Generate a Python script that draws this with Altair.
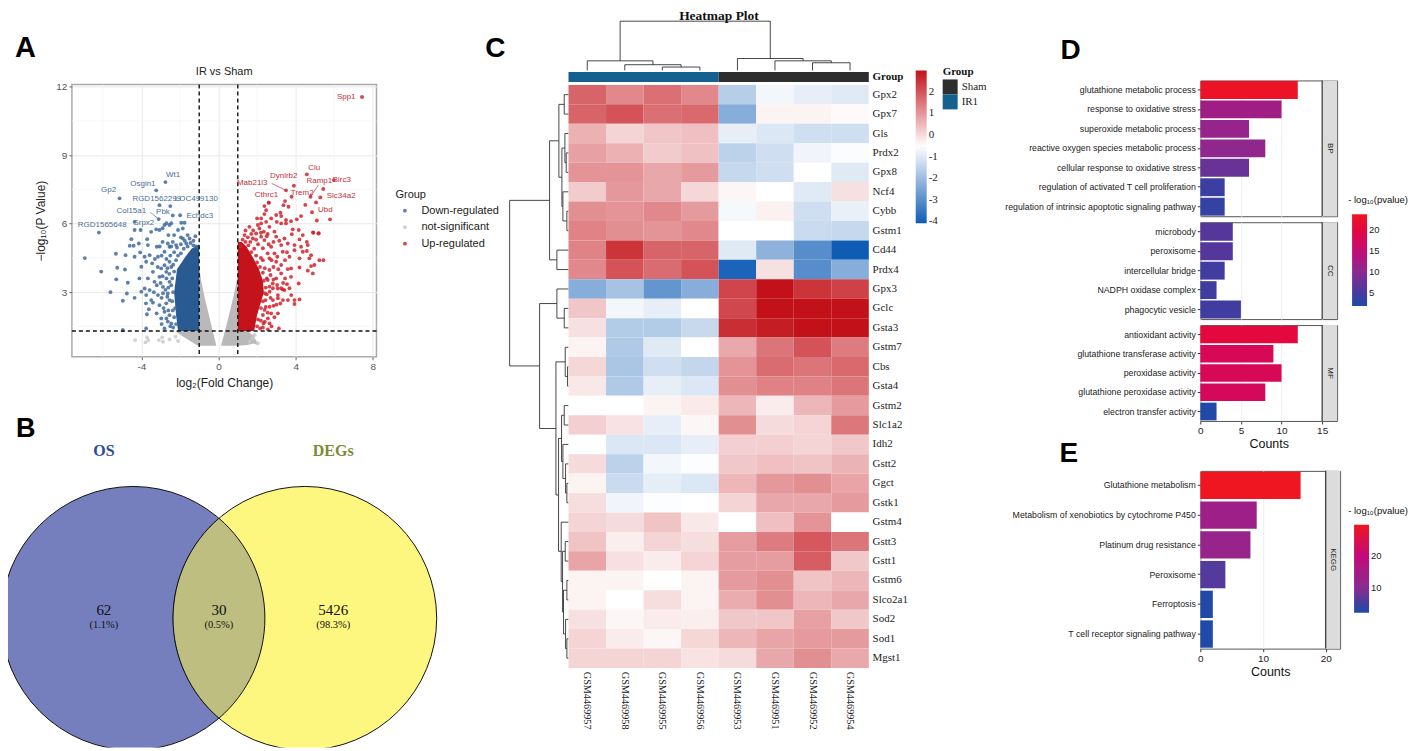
import altair as alt
import pandas as pd

NARROW = "Liberation Sans"
SERIF = "Liberation Serif"
SANS = "Liberation Sans"
PLAIN = "'' + datum.value"

# ---------- A: volcano ----------
down_pts = [(-6.2,5.61),(-6.93,4.49),(-6.08,3.9),(-5.32,4.68),(-4.82,4.62),(-5.25,4.07),(-4.85,3.99),(-5.3,3.56),(-4.7,3.41),(-5.6,3.0),(-4.75,2.94),(-4.35,2.75),(-4.96,2.62),
(-4.35,5.72),(-4.04,5.72),(-4.52,5.32),(-4.4,5.03),(-4.6,5.03),(-4.13,5.13),(-4.06,4.74),(-4.35,4.55),(-3.7,5.32),(-3.49,5.64),(-3.23,5.75),(-3.66,5.06),(-3.2,4.99),(-3.83,4.55),(-3.57,4.62),(-3.75,4.33),(-3.44,4.26),(-4.0,4.11),(-3.14,4.55),(-2.8,4.77),(-2.63,5.13),(-2.37,5.2),(-3.06,5.72),(-2.8,5.94),(-2.54,5.94),(-1.93,6.04),(-1.76,6.04),(-2.37,6.36),(-1.99,6.37),(-1.85,5.79),(-2.1,5.72),(-1.5,5.35),(-1.85,5.35),(-1.67,5.13),(-2.2,5.06),(-2.54,4.99),
(-4.1,3.6),(-3.4,3.89),(-3.66,3.6),(-3.32,3.45),(-3.83,3.16),(-3.57,3.09),(-3.06,3.67),(-2.71,3.89),(-2.88,3.23),(-2.63,2.94),(-3.75,2.87),(-3.49,2.65),(-3.14,2.87),(-2.54,3.45),(-2.8,4.18),(-2.54,4.33),(-2.97,4.04),(-4.0,3.02),
(-2.75,7.82),(-3.23,7.46),(-5.13,7.11),(-3.06,6.81),(-2.5,6.77),(-3.1,6.2),(-4.35,6.08),(-2.7,6.02),(-2.45,6.02),(-2.9,5.8),
(-3.75,1.41),(-4.96,1.34),(-3.21,2.07),(-3.71,2.03),(-3.61,2.25),(-3.76,2.51),(-3.4,2.54),(-2.97,1.85),(-2.8,1.41),(-2.63,1.71),(-3.06,2.43),(-2.8,2.14),(-2.54,1.99),(-2.71,2.51),(-2.45,1.63),(-2.37,2.2),(-2.54,2.65),(-2.88,2.95),
(-2.2,1.6),(-2.3,1.9),(-2.25,2.3),(-2.4,2.6),(-2.35,3.0),(-2.45,3.3),(-2.4,3.6),(-2.3,3.9),(-2.35,4.2),(-2.2,4.4),(-2.1,4.6),(-1.95,4.7),(-1.8,4.9),(-1.6,5.0),(-1.45,5.15),(-1.3,5.05),(-1.15,5.0),(-2.6,2.2),(-2.65,2.8),(-2.75,3.1),(-2.6,3.2),(-2.7,3.6),(-2.55,3.8),(-2.65,4.05),(-2.45,4.1),(-2.5,4.6),(-2.3,4.75),(-2.15,4.95),(-1.95,5.1),(-1.75,5.25),(-2.85,2.3),(-2.95,2.75),(-3.0,3.4),(-2.9,3.7),(-3.2,3.3),(-3.35,3.0),(-2.95,1.6),(-2.7,1.85),(-2.5,1.5),(-2.35,1.45),(-3.15,4.1),(-3.3,4.45),(-2.95,4.6),(-2.7,4.45),(-2.45,5.0),(-1.6,5.5),(-1.3,5.25),(-1.2,5.45),(-1.95,5.4),(-2.3,5.5),(-2.6,5.5),(-2.9,5.2),(-3.05,5.0)]
ns_pts = [(-4.32,.9),(-3.71,1.02),(-3.64,.9),(-3.78,.8),(-3.09,.9),(-2.92,1.02),(-2.88,.83),(-2.23,1.05),(-2.1,.86),(-2.54,.93),(1.87,1.12),(2.04,.76),(1.78,.97),(1.61,.83)]
up_pts = [(7.44,11.55),(4.58,8.16),(3.91,7.66),(3.5,7.46),(3.79,7.18),(4.77,7.18),(5.28,7.15),(5.43,7.52),(5.98,7.91),(3.45,6.99),(2.6,6.92),(5.06,6.93),(4.5,6.82),(4.85,6.5),(5.78,6.19),(5.1,6.14),(4.9,5.62),(5.2,5.58),
(2.61,6.92),(2.38,6.77),(2.47,6.59),(2.38,6.42),(2.0,6.23),(2.21,6.23),(3.21,6.48),(2.99,6.38),(3.25,6.33),(3.37,6.81),(3.63,6.74),(4.28,6.33),(4.06,6.19),(3.76,6.11),(3.5,6.16),(3.5,6.01),(3.02,6.08),(3.25,6.01),(2.73,6.23),(2.47,6.08),(2.21,6.01),(2.04,5.94),(1.6,5.86),(2.12,5.79),(2.64,5.86),(2.9,5.65),(2.35,5.65),(1.95,5.57),(1.52,5.4),(1.78,5.35),(2.21,5.43),(2.38,5.28),(2.99,5.43),(3.42,5.35),(3.85,5.75),(4.16,5.72),(3.8,5.54),(4.37,5.5),(4.92,5.6),(5.18,5.57),(4.58,5.2),(4.2,5.31),(3.59,5.13),(3.94,5.06),(4.63,5.06),(4.28,4.99),(3.25,5.06),(2.73,4.99),(2.3,4.92),(2.9,4.7),(3.33,4.77),(3.94,4.84),(4.37,4.77),(4.58,4.8),(4.8,4.62),(4.2,4.48),(3.68,4.55),(4.71,4.48),(5.23,4.4),(5.44,4.4),(4.97,4.19),(4.8,4.14),(4.2,4.08),(3.76,4.04),(2.99,4.33),(2.64,4.48),(2.3,4.4),(3.25,4.19),(3.59,4.01),(4.63,3.94),(4.89,3.82),(3.25,3.82),(2.64,3.97),(2.99,3.6),(2.55,3.53),(3.76,3.67),(2.64,3.24),(3.07,3.16),(3.33,3.12),(2.81,3.38),
(4.16,3.38),(4.2,2.68),(3.68,3.17),(3.25,3.17),(3.04,3.31),(3.42,3.09),(3.08,2.87),(3.77,2.87),(3.94,2.65),(3.94,2.48),(3.6,2.65),(3.34,2.65),(3.08,2.73),(2.82,2.65),(2.65,2.36),(3.08,2.07),(2.73,2.07),(2.65,1.63),(2.33,1.63),(2.56,1.85),(3.13,1.41),(2.3,2.0),(2.16,1.41),(2.56,1.37),(2.39,2.22),(2.82,3.17),(2.65,3.02),(2.44,2.65),
(2.0,1.5),(2.05,1.8),(2.2,1.75),(2.2,2.3),(2.3,2.6),(2.4,2.95),(2.5,2.9),(2.45,3.2),(2.35,3.5),(2.5,3.6),(2.3,3.85),(2.15,4.1),(2.4,4.05),(2.0,4.3),(2.2,4.5),(1.95,4.6),(1.7,4.75),(1.85,4.9),(1.55,5.05),(1.4,5.2),(1.65,5.2),(1.25,5.3),(1.15,5.0),(2.05,5.1),(1.95,5.3),(1.7,5.55),(1.35,5.5),(1.4,5.7),(1.8,5.7),(2.5,5.45),(2.6,5.1),(2.55,4.7),(2.75,4.4),(2.85,4.1),(2.7,3.75),(2.85,3.55),(2.7,2.75),(2.85,2.4),(2.45,2.35),(2.55,2.1),(2.4,1.7),(2.3,1.45),(2.75,1.5),(2.9,1.9),(3.0,2.45),(3.2,2.5),(3.35,3.4),(3.45,3.6),(3.55,3.35),(3.1,4.0),(3.45,4.4),(3.05,4.55),(3.55,4.75),(3.15,5.25),(2.85,5.2),(2.55,5.55),(2.2,5.6)]

down_core_y = [1.3, 2, 3, 4, 4.5, 4.9, 5.1]
down_core_x = [-2.1, -2.2, -2.3, -2.15, -1.76, -1.4, -1.0]
up_core_y = [1.3, 2, 3, 3.5, 4, 4.5, 5, 5.2]
up_core_x = [1.85, 2.0, 2.35, 2.3, 2.1, 1.8, 1.45, 1.2]
grey_left = [(-2.2,1.25,1.3),(-1.64,.95,1.3),(-1.07,.65,1.3),(-1.0,.65,4.1),(-.9,.65,3.5),(-.7,.65,2.7),(-.5,.65,2.0),(-.3,.65,1.3),(-.12,.65,.68)]
grey_right = [(.14,.65,.7),(.4,.65,1.5),(.6,.65,2.2),(.8,.65,2.9),(1.0,.65,3.75),(1.01,.65,1.3),(1.5,.68,1.3),(1.8,.75,1.1),(2.04,.7,.75)]
down_labels = [("Wt1",-2.35,8.12),("Osgin1",-3.92,7.74),("Gp2",-5.7,7.46),("RGD1562299",-3.2,7.08),("LOC499130",-1.15,7.08),("Col15a1",-4.52,6.55),("Pbk",-2.88,6.5),("Srpx2",-3.87,6.02),("Echdc3",-.97,6.34),("RGD1565648",-6.03,5.95)]
up_labels = [("Spp1",6.62,11.54),("Clu",4.96,8.46),("Dynlrb2",3.38,8.08),("Ramp1",5.23,7.86),("Birc3",6.39,7.92),("Mab21l3",1.75,7.77),("Trem2",4.34,7.34),("Cthrc1",2.49,7.24),("Slc34a2",6.36,7.19),("Ubd",5.54,6.6)]
connectors = [(2.76,7.76,3.5,7.46,"#c2303a"),(-3.54,6.5,-3.1,6.2,"#4a7096"),(5.18,7.7,4.77,7.18,"#c2303a")]

XA = alt.Scale(domain=[-7.6, 8.19], nice=False, zero=False)
YA = alt.Scale(domain=[.17, 12.1], nice=False, zero=False)

def blank(w, h):
    return alt.Chart(alt.Data(values=[{}])).mark_point(opacity=0, size=0).encode(x=alt.value(0), y=alt.value(0)).properties(width=w, height=h)

def note(text, x, y, **kw):
    return alt.Chart(alt.Data(values=[{}])).mark_text(**kw).encode(x=alt.value(x), y=alt.value(y), text=alt.value(text))

pts = pd.DataFrame(
    [dict(x=a, y=b, g="Down-regulated") for a, b in down_pts]
    + [dict(x=a, y=b, g="not-significant") for a, b in ns_pts]
    + [dict(x=a, y=b, g="Up-regulated") for a, b in up_pts])
x_enc = alt.X("x:Q", scale=XA, axis=alt.Axis(values=[-4, 0, 4, 8], labelExpr=PLAIN, title="log₂(Fold Change)", titleFontSize=12, titleFont=SANS, titleFontWeight="normal", titleColor="#222", labelFontSize=10, labelFont=SANS, labelColor="#555", tickColor="#666", tickSize=3, domain=False, gridColor="#e9e9e9", titlePadding=6))
y_enc = alt.Y("y:Q", scale=YA, axis=alt.Axis(values=[3, 6, 9, 12], title="−log₁₀(P Value)", titleFontSize=12, titleFont=SANS, titleFontWeight="normal", titleColor="#222", labelFontSize=10, labelFont=SANS, labelColor="#555", tickColor="#666", tickSize=3, domain=False, gridColor="#e9e9e9", titlePadding=8))

base_axes = alt.Chart(pd.DataFrame({"x": [0.0], "y": [3.0]})).mark_point(opacity=0).encode(x=x_enc, y=y_enc)
minor_x = alt.Chart(pd.DataFrame({"x": [-6, -2, 2, 6]})).mark_rule(color="#f4f4f4", strokeWidth=.7).encode(x=alt.X("x:Q", scale=XA))
minor_y = alt.Chart(pd.DataFrame({"y": [1.5, 4.5, 7.5, 10.5]})).mark_rule(color="#f4f4f4", strokeWidth=.7).encode(y=alt.Y("y:Q", scale=YA))

def grey_area(rows):
    d = pd.DataFrame(rows, columns=["x", "lo", "hi"])
    return alt.Chart(d).mark_area(color="#b9b9b9").encode(x=alt.X("x:Q", scale=XA), y=alt.Y("lo:Q", scale=YA), y2="hi:Q")

def core(ys, xs, other, colour):
    d = pd.DataFrame({"y": ys, "a": xs, "b": [other] * len(ys)})
    return alt.Chart(d).mark_area(color=colour, orient="horizontal").encode(y=alt.Y("y:Q", scale=YA), x=alt.X("a:Q", scale=XA), x2="b:Q")

scatter = alt.Chart(pts).mark_circle(size=15, opacity=.85).encode(
    x=alt.X("x:Q", scale=XA), y=alt.Y("y:Q", scale=YA),
    color=alt.Color("g:N", scale=alt.Scale(domain=["Down-regulated", "not-significant", "Up-regulated"], range=["#3f6a9c", "#c9c9c9", "#d0222c"]),
                    legend=alt.Legend(title="Group", orient="none", legendX=324, legendY=105, titleFontSize=11, titleFontWeight="normal", titleFont=SANS, titleColor="#222", labelFont=SANS, labelFontSize=11, labelColor="#222", symbolSize=14, symbolOffset=4, rowPadding=4.5, labelOffset=11, symbolType="circle")))
vl = alt.Chart(pd.DataFrame({"x": [-1, 1]})).mark_rule(color="#111", strokeWidth=1.4, strokeDash=[4, 3]).encode(x=alt.X("x:Q", scale=XA))
hl = alt.Chart(pd.DataFrame({"y": [1.3]})).mark_rule(color="#111", strokeWidth=1.4, strokeDash=[4, 3]).encode(y=alt.Y("y:Q", scale=YA))
conn = alt.Chart(pd.DataFrame(connectors, columns=["x", "y", "x2", "y2", "c"])).mark_rule(strokeWidth=.7).encode(
    x=alt.X("x:Q", scale=XA), y=alt.Y("y:Q", scale=YA), x2="x2:Q", y2="y2:Q", color=alt.Color("c:N", scale=None))

def labels(rows, colour):
    d = pd.DataFrame(rows, columns=["t", "x", "y"])
    return alt.Chart(d).mark_text(font=SANS, fontSize=8, color=colour).encode(x=alt.X("x:Q", scale=XA), y=alt.Y("y:Q", scale=YA), text="t:N")

panel_a = alt.layer(
    base_axes, minor_x, minor_y, grey_area(grey_left), grey_area(grey_right),
    core(down_core_y, down_core_x, -1.0, "#2a5a92"), core(up_core_y, up_core_x, 1.0, "#c5131c"),
    scatter, vl, hl, conn, labels(down_labels, "#4a7096"), labels(up_labels, "#c2303a"),
    note("IR vs Sham", 152.5, -12, font=SANS, fontSize=11, color="#222"),
    note("A", -57, -27, font=SANS, fontSize=29, fontWeight="bold", align="left", baseline="alphabetic", color="#000"),
    note("C", 414, -27, font=SANS, fontSize=28, fontWeight="bold", align="left", baseline="alphabetic", color="#000"),
).properties(width=305, height=272.7, view=alt.ViewBackground(stroke="#aaaaaa", strokeWidth=1.5))

# ---------- B: Venn ----------
XB = alt.Scale(domain=[8, 509], nice=False, zero=False)
YB = alt.Scale(domain=[388.1, 746.1], nice=False, zero=False, reverse=True)
venn_x = [133.2, 305.3]
venn_names = ["OS", "DEGs"]
venn_fill = ["#757fbd", "#fdf67f"]
venn_df = pd.DataFrame({"x": venn_x, "y": [616.7, 616.7], "f": venn_fill})
LENS = "M0,-0.7586 A1,1 0 0 1 0,0.7586 A1,1 0 0 1 0,-0.7586 Z"
circles = alt.Chart(venn_df).mark_point(filled=False, clip=True, size=69696, shape="circle", stroke="#111", strokeWidth=1, opacity=1).encode(
    x=alt.X("x:Q", scale=XB, axis=None), y=alt.Y("y:Q", scale=YB, axis=None), fill=alt.Fill("f:N", scale=None))
lens = alt.Chart(pd.DataFrame({"x": [219.25], "y": [616.7]})).mark_point(filled=True, size=69696, shape=LENS, fill="#bdbe80", stroke="#111", strokeWidth=1, opacity=1).encode(
    x=alt.X("x:Q", scale=XB, axis=None), y=alt.Y("y:Q", scale=YB, axis=None))
venn_heads = pd.DataFrame({"x": [104, 333.7], "y": [449, 449], "t": venn_names, "c": ["#2a4aa0", "#7d8a32"]})
heads = alt.Chart(venn_heads).mark_text(font=SERIF, fontSize=16, fontWeight="bold").encode(
    x=alt.X("x:Q", scale=XB), y=alt.Y("y:Q", scale=YB), text="t:N", color=alt.Color("c:N", scale=None))
venn_nums = pd.DataFrame({"x": [104, 219.2, 333.7], "y": [613, 613, 613], "t": ["62", "30", "5426"]})
nums = alt.Chart(venn_nums).mark_text(font=SERIF, fontSize=15, color="#111", baseline="alphabetic").encode(x=alt.X("x:Q", scale=XB), y=alt.Y("y:Q", scale=YB), text="t:N")
venn_pct = pd.DataFrame({"x": [104, 219.2, 333.7], "y": [626, 626, 626], "t": ["(1.1%)", "(0.5%)", "(98.3%)"]})
pcts = alt.Chart(venn_pct).mark_text(font=SERIF, fontSize=10.5, color="#111", baseline="alphabetic").encode(x=alt.X("x:Q", scale=XB), y=alt.Y("y:Q", scale=YB), text="t:N")
panel_b = alt.layer(circles, lens, heads, nums, pcts,
    note("B", 8, 47, font=SANS, fontSize=27, fontWeight="bold", align="left", baseline="alphabetic", color="#000"),
).properties(width=501, height=358)

# ---------- C: heatmap ----------
genes = ["Gpx2","Gpx7","Gls","Prdx2","Gpx8","Ncf4","Cybb","Gstm1","Cd44","Prdx4","Gpx3","Gclc","Gsta3","Gstm7","Cbs","Gsta4","Gstm2","Slc1a2","Idh2","Gstt2","Ggct","Gstk1","Gstm4","Gstt3","Gstt1","Gstm6","Slco2a1","Sod2","Sod1","Mgst1"]
samples = ["GSM4469957","GSM4469958","GSM4469955","GSM4469956","GSM4469953","GSM4469951","GSM4469952","GSM4469954"]
z = [
[1.76,1.23,1.58,1.23,-1.62,-.73,-.91,-1.01],
[1.76,2.01,1.58,1.69,-2.33,-.37,-.37,-.48],
[.62,.09,.3,.41,-.91,-1.08,-1.26,-1.26],
[.87,.62,.23,.37,-1.54,-1.26,-.76,-.62],
[1.05,1.05,.76,.94,-1.4,-1.26,-.55,-1.01],
[.23,.98,.76,.05,-.41,-.55,-1.01,-.09],
[1.12,1.05,1.23,.94,-.69,-.34,-1.26,-.87],
[1.3,1.12,1.05,1.23,-.55,-.55,-1.33,-1.4],
[1.3,2.47,1.76,1.76,-1.01,-2.22,-3.04,-4.1],
[1.23,2.01,1.65,2.01,-3.92,-.09,-3.04,-2.33],
[-2.33,-1.86,-2.86,-2.33,2.22,3,2.47,2.29],
[.3,-.73,-.91,-.55,2.18,3,3,3],
[-.09,-1.69,-1.69,-1.37,2.57,2.82,3,3],
[-.37,-1.72,-1.01,-.55,.73,1.51,2.01,1.4],
[.05,-1.79,-1.26,-1.44,1.05,1.65,1.51,1.69],
[-.2,-1.72,-.91,-1.08,1.12,1.33,1.33,1.51],
[-.55,-.55,-.37,-.23,.52,-.27,.52,.94],
[.16,-.12,-.91,-.41,1.12,-.02,.09,1.47],
[-.55,-1.08,-1.08,-.91,.16,.16,.09,.27],
[-.02,-1.54,-.73,-.59,.27,.41,.34,.59],
[-.37,-1.33,-.94,-1.08,.52,.98,1.12,.8],
[-.05,-.76,-.59,-.55,.09,.76,.76,.94],
[.09,-.02,.34,-.2,-.55,.41,1.05,-.55],
[.34,-.3,.09,-.05,.91,1.4,1.94,1.51],
[.8,-.09,-.27,.09,.91,.91,1.86,.27],
[-.37,-.37,-.55,-.37,.94,1.12,.34,.52],
[-.37,-.55,-.05,-.37,.69,1.12,.52,.76],
[-.09,-.41,-.27,-.3,.27,.3,.87,.27],
[.09,-.27,-.41,.05,.52,.8,.94,.94],
[.09,.09,.09,-.12,-.02,.76,1.12,.73],
]
XC = alt.Scale(domain=[-1.338, 11.59], nice=False, zero=False)
YC = alt.Scale(domain=[-3.88, 33.99], nice=False, zero=False, reverse=True)
cells = pd.DataFrame([dict(a=j, b=j + 1, r=i, s=i + 1, v=z[i][j]) for i in range(len(genes)) for j in range(len(samples))])
heat = alt.Chart(cells).mark_rect(strokeWidth=0).encode(
    x=alt.X("a:Q", scale=XC, axis=None), x2="b:Q", y=alt.Y("r:Q", scale=YC, axis=None), y2="s:Q",
    color=alt.Color("v:Q", scale=alt.Scale(domain=[-4.1, -.55, 3], range=["#0f5cb5", "#ffffff", "#c21118"], clamp=True, interpolate="rgb"),
                    legend=alt.Legend(title=None, orient="none", legendX=398, legendY=61, gradientLength=153, gradientThickness=11, gradientStrokeWidth=0, values=[-4, -3, -2, -1, 0, 1, 2], labelExpr=PLAIN, labelFont=SERIF, labelFontSize=11, labelColor="#222", labelOverlap=False, tickCount=7)))
group_bar = alt.Chart(pd.DataFrame({"a": [0, 4], "b": [4, 8], "r": [-.668, -.668], "s": [-.154, -.154], "g": ["IR1", "Sham"]})).mark_rect().encode(
    x=alt.X("a:Q", scale=XC, axis=None), x2="b:Q", y=alt.Y("r:Q", scale=YC, axis=None), y2="s:Q",
    color=alt.Color("g:N", scale=alt.Scale(domain=["Sham", "IR1"], range=["#2e2e2e", "#14608f"]),
                    legend=alt.Legend(title="Group", orient="none", legendX=425, legendY=57, symbolType="square", symbolSize=225, symbolStrokeWidth=0, rowPadding=0, titleFont=SERIF, titleFontSize=11, titleFontWeight="bold", titleColor="#111", titlePadding=2, labelFont=SERIF, labelFontSize=11, labelColor="#222", labelOffset=4)))

# top dendrogram merges: left position, right position, height, child heights
top_merges = [
(2.5,3.5,-.92,-.745,-.745),(1.5,3.0,-1.04,-.745,-.92),(.5,2.25,-1.24,-.745,-1.04),
(6.5,7.5,-1.14,-.745,-.745),(5.5,7.0,-1.24,-.745,-1.14),(4.5,6.25,-1.36,-.745,-1.24),
(1.375,5.375,-3.28,-1.24,-1.36)]
# left dendrogram merges: upper row, lower row, height, child heights
left_merges = [
(.5,1.5,-.114,-.005,-.005),(3.5,4.5,-.061,-.005,-.005),(2.5,4,-.096,-.005,-.061),(6.5,7.5,-.043,-.005,-.005),(5.5,7,-.149,-.005,-.043),(3.25,6.25,-.176,-.096,-.149),(1,4.75,-.256,-.114,-.176),(8.5,9.5,-.309,-.005,-.005),(2.875,9,-.504,-.256,-.309),
(11.5,12.5,-.114,-.005,-.005),(10.5,12,-.309,-.005,-.114),(14.5,15.5,-.025,-.005,-.005),(13.5,15,-.087,-.005,-.025),
(16.5,17.5,-.114,-.005,-.005),(20.5,21.5,-.043,-.005,-.005),(19.5,21,-.078,-.005,-.043),(18.5,20.25,-.149,-.005,-.078),(17,19.375,-.185,-.114,-.149),
(23.5,24.5,-.087,-.005,-.005),(25.5,26.5,-.043,-.005,-.005),(28.5,29.5,-.043,-.005,-.005),(27.5,29,-.078,-.005,-.043),(26,28.25,-.132,-.043,-.078),(24,27.125,-.158,-.087,-.132),(22.5,25.56,-.194,-.005,-.158),
(18.19,24,-.265,-.185,-.194),(14.25,21.1,-.335,-.087,-.265),(11.25,17.68,-.77,-.309,-.335),(5.94,14.46,-1.568,-.504,-.77)]
seg = []
for a, b, h, ha, hb in top_merges:
    seg += [dict(x=a, x2=b, y=h, y2=h), dict(x=a, x2=a, y=h, y2=ha), dict(x=b, x2=b, y=h, y2=hb)]
for a, b, h, ha, hb in left_merges:
    seg += [dict(x=h, x2=h, y=a, y2=b), dict(x=h, x2=ha, y=a, y2=a), dict(x=h, x2=hb, y=b, y2=b)]
tree = alt.Chart(pd.DataFrame(seg)).mark_rule(color="#333", strokeWidth=.9).encode(
    x=alt.X("x:Q", scale=XC, axis=None), x2="x2:Q", y=alt.Y("y:Q", scale=YC, axis=None), y2="y2:Q")
row_lab = alt.Chart(pd.DataFrame({"t": genes, "x": [8.1] * 30, "y": [i + .5 for i in range(30)]})).mark_text(font=SERIF, fontSize=11, align="left", color="#222").encode(
    x=alt.X("x:Q", scale=XC), y=alt.Y("y:Q", scale=YC), text="t:N")
grp_lab = alt.Chart(pd.DataFrame({"t": ["Group"], "x": [8.1], "y": [-.41]})).mark_text(font=SERIF, fontSize=11, fontWeight="bold", align="left", color="#111").encode(
    x=alt.X("x:Q", scale=XC), y=alt.Y("y:Q", scale=YC), text="t:N")
col_lab = alt.Chart(pd.DataFrame({"t": samples, "x": [i + .5 for i in range(8)], "y": [30.2] * 8})).mark_text(font=SERIF, fontSize=10.2, angle=90, align="left", baseline="middle", color="#222").encode(
    x=alt.X("x:Q", scale=XC), y=alt.Y("y:Q", scale=YC), text="t:N")
panel_c = alt.layer(heat, group_bar, tree, row_lab, grp_lab, col_lab,
    note("Heatmap Plot", 201, 10.8, font=SERIF, fontSize=13.5, fontWeight="bold", baseline="alphabetic", color="#111"),
).resolve_scale(color="independent").properties(width=486, height=737)

# ---------- D / E: enrichment bars ----------
bp_terms = ["glutathione metabolic process","response to oxidative stress","superoxide metabolic process","reactive oxygen species metabolic process","cellular response to oxidative stress","regulation of activated T cell proliferation","regulation of intrinsic apoptotic signaling pathway"]
bp_counts = [12, 10, 6, 8, 6, 3, 3]
bp_p = [23, 12, 11, 10.5, 7.5, 4, 3.5]
cc_terms = ["microbody","peroxisome","intercellular bridge","NADPH oxidase complex","phagocytic vesicle"]
cc_counts = [4, 4, 3, 2, 5]
cc_p = [6, 6, 4.5, 4.5, 4.5]
mf_terms = ["antioxidant activity","glutathione transferase activity","peroxidase activity","glutathione peroxidase activity","electron transfer activity"]
mf_counts = [12, 9, 10, 8, 2]
mf_p = [20, 18, 18, 17.5, 2]
kegg_terms = ["Glutathione metabolism","Metabolism of xenobiotics by cytochrome P450","Platinum drug resistance","Peroxisome","Ferroptosis","T cell receptor signaling pathway"]
kegg_counts = [16, 9, 8, 4, 2, 2]
kegg_p = [29.5, 13.5, 12, 6, 2.5, 2.2]

D_DOM = [1.86, 5, 10, 15, 20, 23.7]
E_DOM = [2.2, 10, 20, 29.6]
D_RANGE = ["#1f4aa8", "#483a9e", "#8a2a90", "#c40a78", "#e3083f", "#ef1520"]
E_RANGE = ["#1f4aa8", "#8a2a90", "#c40a78", "#ef1520"]

def colour_scale(dom, rng):
    return alt.Scale(domain=dom, range=rng, clamp=True, interpolate="rgb")

def enrich(terms, counts, p, strip, h, w, xmax, xedge, xvals, cs, show_x, extra=None):
    xs = alt.Scale(domain=[0, xmax], nice=False, zero=False)
    df = pd.DataFrame({"term": terms, "n": counts, "p": p})
    ax = alt.Axis(values=xvals, title="Counts" if show_x else None, labels=show_x, ticks=show_x, domain=False, gridColor="#eeeeee", labelFont=NARROW, labelFontSize=10, labelColor="#222", labelFlush=False, titleFont=NARROW, titleFontSize=12.5, titleFontWeight="normal", titleColor="#111", tickColor="#333", tickSize=3, titlePadding=2, labelPadding=2)
    ay = alt.Axis(title=None, domain=False, gridColor="#f1f1f1", labelFont=NARROW, labelFontSize=8.8, labelColor="#222", tickColor="#333", tickSize=3, labelLimit=300, labelPadding=2)
    y = alt.Y("term:N", sort=terms, scale=alt.Scale(domain=terms, paddingInner=.08, paddingOuter=.03), axis=ay)
    bars = alt.Chart(df).mark_bar(strokeWidth=0).encode(x=alt.X("n:Q", scale=xs, axis=ax), y=y, color=alt.Color("p:Q", scale=cs, legend=None))
    st = alt.Chart(pd.DataFrame({"a": [xedge], "b": [xmax]})).mark_rect(color="#dcdcdc").encode(
        x=alt.X("a:Q", scale=xs), x2="b:Q", y=alt.value(0), y2=alt.value(h))
    edge = alt.Chart(pd.DataFrame({"a": [xedge]})).mark_rule(color="#333", strokeWidth=1.2).encode(x=alt.X("a:Q", scale=xs))
    mx = (xedge + xmax) / 2 * w / xmax
    lab = note(strip, mx, h / 2, font=SANS, fontSize=8, angle=90, color="#222")
    layers = [bars, st, edge, lab] + (extra or [])
    return alt.layer(*layers).properties(width=w, height=h, view=alt.ViewBackground(stroke="#555", strokeWidth=1))

CS_D = colour_scale(D_DOM, D_RANGE)
CS_E = colour_scale(E_DOM, E_RANGE)
d_bp = enrich(bp_terms, bp_counts, bp_p, "BP", 136, 137, 16.84, 15, [0, 5, 10, 15], CS_D, False,
              [note("D", -140, -21, font=SANS, fontSize=28, fontWeight="bold", align="left", baseline="alphabetic", color="#000")])
d_cc = enrich(cc_terms, cc_counts, cc_p, "CC", 97, 137, 16.84, 15, [0, 5, 10, 15], CS_D, False)
d_mf = enrich(mf_terms, mf_counts, mf_p, "MF", 96, 137, 16.84, 15, [0, 5, 10, 15], CS_D, True,
              [note("E", -141, 137, font=SANS, fontSize=28, fontWeight="bold", align="left", baseline="alphabetic", color="#000")])
e_kg = enrich(kegg_terms, kegg_counts, kegg_p, "KEGG", 178, 140, 22.3, 20, [0, 5, 10, 15, 20], CS_E, True)

# colour bars of D and E live in a narrow column of their own
key_d = alt.Chart(pd.DataFrame({"p": bp_p + cc_p + mf_p})).mark_point(opacity=0, size=0, filled=True).encode(
    x=alt.value(0), y=alt.value(0),
    color=alt.Color("p:Q", scale=CS_D, legend=alt.Legend(title=None, orient="none", legendX=11, legendY=205, gradientLength=92, gradientThickness=15, gradientStrokeWidth=0, values=[5, 10, 15, 20], labelFont=NARROW, labelFontSize=9.5, labelColor="#222")))
key_e = alt.Chart(pd.DataFrame({"p": kegg_p})).mark_point(opacity=0, size=0, filled=True).encode(
    x=alt.value(0), y=alt.value(0),
    color=alt.Color("p:Q", scale=CS_E, legend=alt.Legend(title=None, orient="none", legendX=13, legendY=516, gradientLength=88, gradientThickness=15, gradientStrokeWidth=0, values=[10, 20], labelFont=NARROW, labelFontSize=9.5, labelColor="#222")))
keys = alt.layer(key_d, key_e,
    note("- log₁₀(pvalue)", 67, 191, font=NARROW, fontSize=9.5, align="right", color="#111"),
    note("- log₁₀(pvalue)", 67, 502, font=NARROW, fontSize=9.5, align="right", color="#111"),
).resolve_scale(color="independent").properties(width=68, height=640)

# ---------- page ----------
row_a = alt.hconcat(blank(5.5, 10), panel_a, spacing=0).resolve_scale(color="independent")
col1 = alt.vconcat(blank(501, 24), row_a, panel_b, spacing=0).resolve_scale(color="independent")
col3 = alt.vconcat(blank(137, 27), d_bp, blank(137, 2), d_cc, blank(137, 2), d_mf, e_kg, spacing=0).resolve_scale(color="independent")
chart = alt.hconcat(col1, panel_c, col3, keys, spacing=0).resolve_scale(color="independent").configure_view(stroke=None).properties(padding=0, background="white")
chart.save("out.html", embed_options={"renderer": "svg", "actions": False})
